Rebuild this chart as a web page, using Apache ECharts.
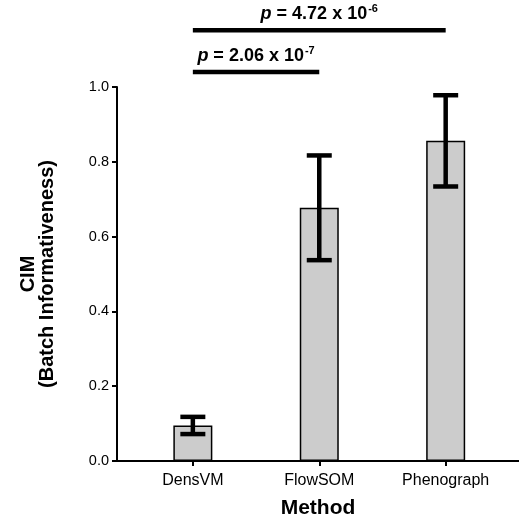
<!DOCTYPE html>
<html>
<head>
<meta charset="utf-8">
<script src="https://cdn.jsdelivr.net/npm/echarts@6/dist/echarts.min.js"></script>
<style>
html, body { margin: 0; padding: 0; background: #fff; }
#chart { width: 519px; height: 520px; }
</style>
</head>
<body>
<div id="chart"></div>
<script>
var categories = ['DensVM', 'FlowSOM', 'Phenograph'];
var means = [0.095, 0.677, 0.856];
var errors = [0.023, 0.140, 0.122];
var yTicks = [0, 0.2, 0.4, 0.6, 0.8, 1.0];
// significance brackets: from category, to category, height, p mantissa, exponent
var sigFrom = [0, 0];
var sigTo = [1, 2];
var sigLevel = [1.040, 1.152];
var sigMantissa = ['2.06', '4.72'];
var sigExp = ['-7', '-6'];

var font = 'Liberation Sans, Arial, sans-serif';

var barData = [];
var errData = [];
for (var i = 0; i < categories.length; i++) {
	barData.push([i, means[i]]);
	errData.push([i, means[i] - errors[i], means[i] + errors[i]]);
}
var sigData = [];
for (var j = 0; j < sigFrom.length; j++) {
	sigData.push([sigFrom[j], sigTo[j], sigLevel[j], j]);
}

var chart = echarts.init(document.getElementById('chart'));
var option = {
	animation : false,
	grid : {
		left : 117,
		right : 0,
		top : 87,
		bottom : 59,
		outerBoundsMode : 'none'
	},
	xAxis : {
		type : 'value',
		min : -0.6,
		max : 2.58,
		name : 'Method',
		nameLocation : 'middle',
		nameGap : 37,
		nameTextStyle : {
			fontFamily : font,
			fontWeight : 'bold',
			fontSize : 21,
			color : '#000'
		},
		splitLine : { show : false },
		axisLine : { lineStyle : { color : '#000', width : 2 } },
		axisTick : {
			customValues : [0, 1, 2],
			length : 5,
			lineStyle : { color : '#000', width : 2 }
		},
		axisLabel : {
			customValues : [0, 1, 2],
			formatter : function(v) {
				return categories[Math.round(v)];
			},
			fontFamily : font,
			fontSize : 16,
			color : '#000',
			margin : 12
		}
	},
	yAxis : {
		type : 'value',
		min : 0,
		max : 1,
		interval : 0.2,
		name : 'CIM\n(Batch Informativeness)',
		nameLocation : 'middle',
		nameRotate : 90,
		nameGap : 60,
		nameTextStyle : {
			fontFamily : font,
			fontWeight : 'bold',
			fontSize : 20,
			lineHeight : 19,
			color : '#000'
		},
		splitLine : { show : false },
		axisLine : {
			show : true,
			onZero : false,
			lineStyle : { color : '#000', width : 2 }
		},
		axisTick : {
			show : true,
			length : 5,
			lineStyle : { color : '#000', width : 2 }
		},
		axisLabel : {
			fontFamily : font,
			fontSize : 14.5,
			color : '#000',
			margin : 8,
			customValues : yTicks,
			formatter : function(v) {
				return v.toFixed(1);
			}
		}
	},
	series : [ {
		type : 'bar',
		data : barData,
		barWidth : 39,
		itemStyle : {
			color : '#cccccc',
			borderColor : '#000',
			borderWidth : 1.5
		}
	}, {
		type : 'custom',
		data : errData,
		z : 5,
		renderItem : function(params, api) {
			var x = api.value(0);
			var lo = api.coord([x, api.value(1)]);
			var hi = api.coord([x, api.value(2)]);
			var hw = 12.5;
			var st = { stroke : '#000', lineWidth : 4.5 };
			return {
				type : 'group',
				children : [ {
					type : 'line',
					shape : { x1 : lo[0], y1 : lo[1], x2 : hi[0], y2 : hi[1] },
					style : st
				}, {
					type : 'line',
					shape : { x1 : lo[0] - hw, y1 : lo[1], x2 : lo[0] + hw, y2 : lo[1] },
					style : st
				}, {
					type : 'line',
					shape : { x1 : hi[0] - hw, y1 : hi[1], x2 : hi[0] + hw, y2 : hi[1] },
					style : st
				} ]
			};
		}
	}, {
		type : 'custom',
		data : sigData,
		clip : false,
		z : 5,
		renderItem : function(params, api) {
			var a = api.coord([api.value(0), api.value(2)]);
			var b = api.coord([api.value(1), api.value(2)]);
			var k = api.value(3);
			return {
				type : 'group',
				children : [ {
					type : 'line',
					shape : { x1 : a[0], y1 : a[1], x2 : b[0], y2 : b[1] },
					style : { stroke : '#000', lineWidth : 4.5 }
				}, {
					type : 'text',
					x : (a[0] + b[0]) / 2,
					y : a[1] - 6,
					style : {
						text : '{i|p}{t| = ' + sigMantissa[k] + ' x 10}{s|' + sigExp[k] + '}',
						align : 'center',
						verticalAlign : 'bottom',
						fill : '#000',
						rich : {
							i : { fontFamily : font, fontWeight : 'bold', fontStyle : 'italic', fontSize : 18 },
							t : { fontFamily : font, fontWeight : 'bold', fontSize : 18 },
							s : { fontFamily : font, fontWeight : 'bold', fontSize : 11, padding : [0, 0, 10, 1] }
						}
					}
				} ]
			};
		}
	} ]
};
chart.setOption(option);
window.onresize = chart.resize;
</script>
</body>
</html>
